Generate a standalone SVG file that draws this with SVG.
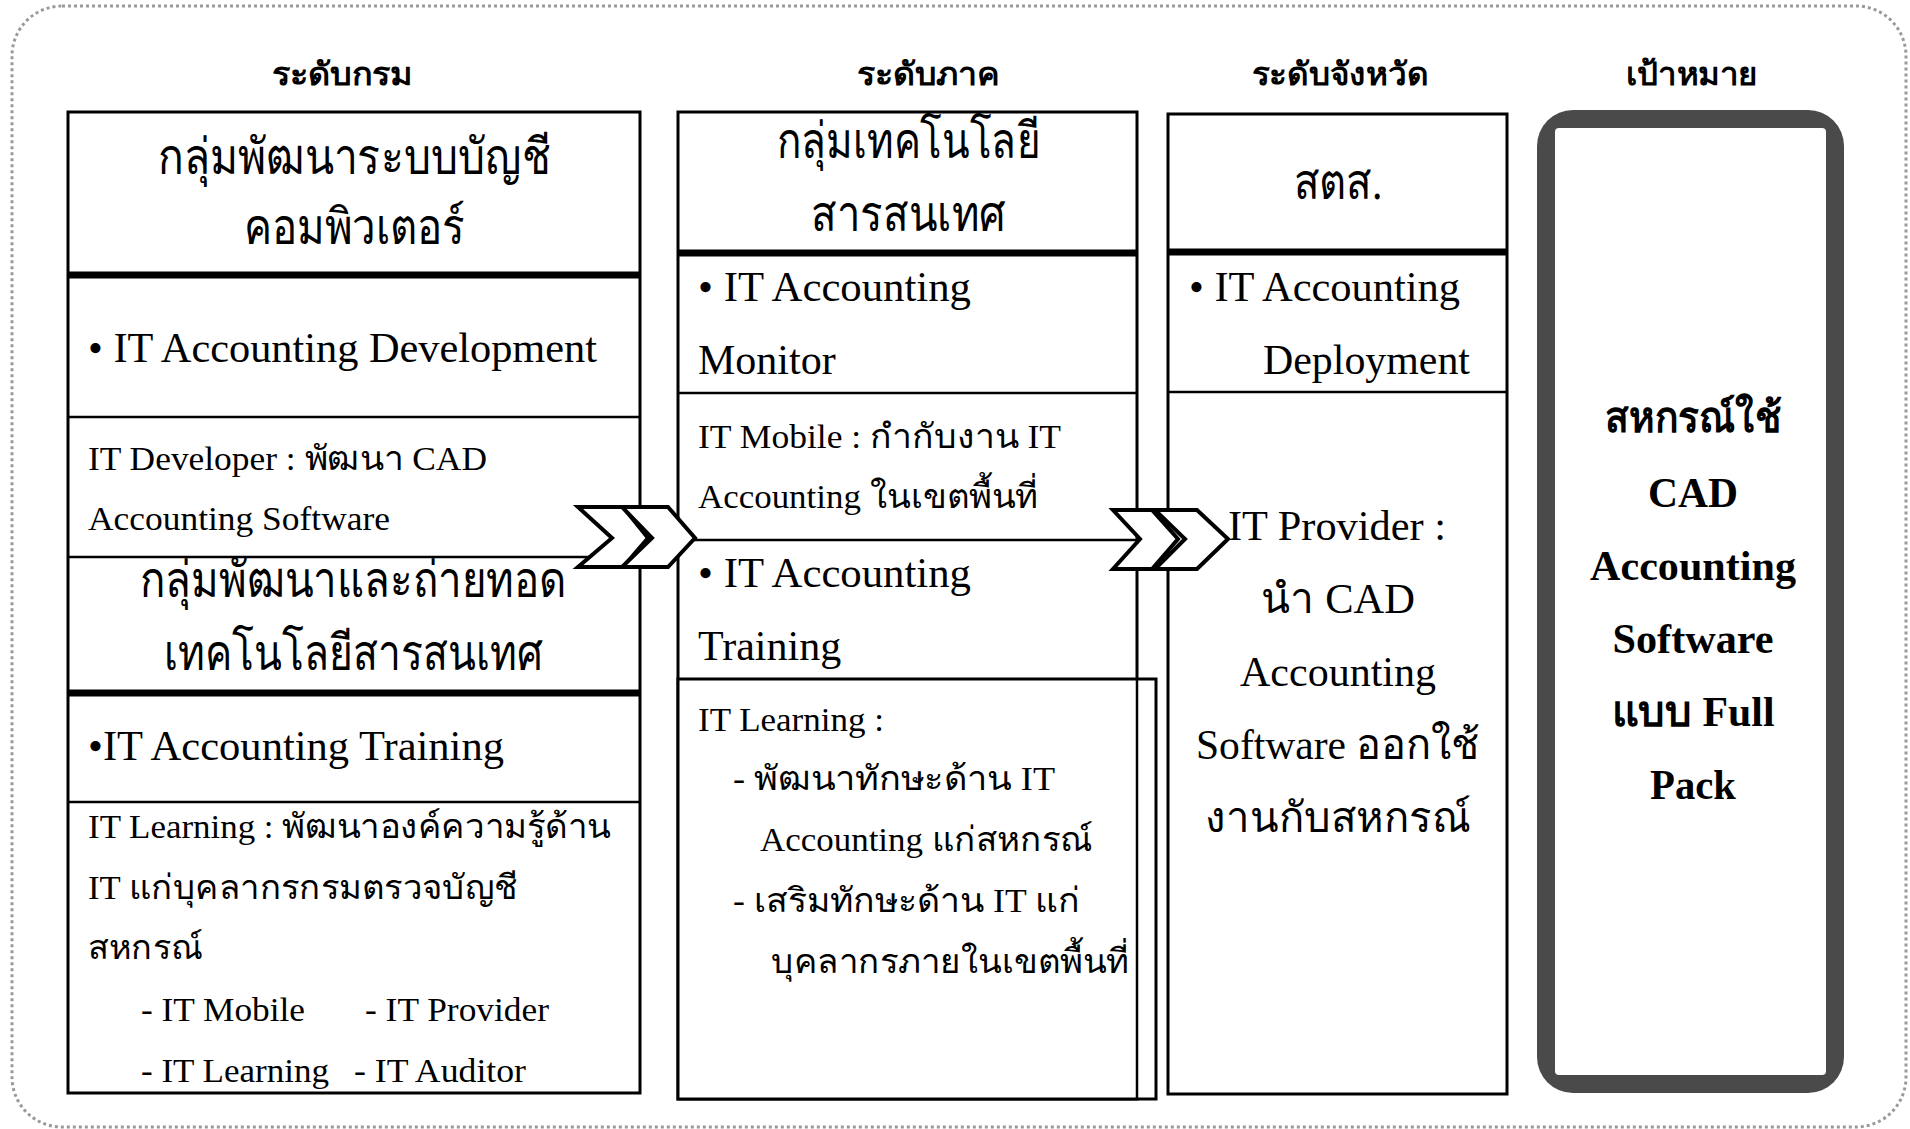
<svg xmlns="http://www.w3.org/2000/svg" width="1910" height="1129" viewBox="0 0 1910 1129">
<style>
.bg{fill:#fff}
.frame{fill:none;stroke:#9a9a9a;stroke-width:3;stroke-dasharray:3 3}
.box{fill:#fff;stroke:#000;stroke-width:3}
.thick{stroke:#000;stroke-width:7}
.thin{stroke:#000;stroke-width:2.5}
.t{font-family:"Liberation Serif","Noto Sans",serif;fill:#000}
.big{font-size:50px}
.m{font-size:42px}
.s{font-size:34px}
.hdr{font-family:"Liberation Sans","Noto Sans",sans-serif;font-weight:bold;font-size:32px;text-anchor:middle;fill:#000}
.goal{font-family:"Liberation Serif","Noto Sans",serif;font-weight:bold;font-size:42px;text-anchor:middle;fill:#000}
.mid{text-anchor:middle}
.chev{fill:#fff;stroke:#000;stroke-width:4;stroke-linejoin:miter}
</style>
<rect class="bg" x="0" y="0" width="1910" height="1129"/>
<rect class="frame" x="12" y="6" width="1894" height="1121" rx="50" ry="50"/>

<g id="headers">
<text class="hdr" x="342" y="85" textLength="141" lengthAdjust="spacingAndGlyphs">ระดับกรม</text>
<text class="hdr" x="928" y="85" textLength="143" lengthAdjust="spacingAndGlyphs">ระดับภาค</text>
<text class="hdr" x="1340" y="85" textLength="177" lengthAdjust="spacingAndGlyphs">ระดับจังหวัด</text>
<text class="hdr" x="1692" y="85" textLength="132" lengthAdjust="spacingAndGlyphs">เป้าหมาย</text>
</g>

<g id="node-department">
<rect class="box" x="68" y="112" width="572" height="981"/>
<line class="thick" x1="68" y1="275" x2="640" y2="275"/>
<line class="thin" x1="68" y1="417" x2="640" y2="417"/>
<line class="thin" x1="68" y1="557" x2="640" y2="557"/>
<line class="thick" x1="68" y1="693" x2="640" y2="693"/>
<line class="thin" x1="68" y1="802" x2="640" y2="802"/>
<text class="t big" x="158" y="174" textLength="393" lengthAdjust="spacingAndGlyphs">กลุ่มพัฒนาระบบบัญชี</text>
<text class="t big" x="244" y="244" textLength="221" lengthAdjust="spacingAndGlyphs">คอมพิวเตอร์</text>
<text class="t m" x="88" y="362" textLength="509" lengthAdjust="spacingAndGlyphs">• IT Accounting Development</text>
<text class="t s" x="88" y="470" textLength="399" lengthAdjust="spacingAndGlyphs">IT Developer : พัฒนา CAD</text>
<text class="t s" x="88" y="530" textLength="302" lengthAdjust="spacingAndGlyphs">Accounting Software</text>
<text class="t big" x="140" y="597" textLength="426" lengthAdjust="spacingAndGlyphs">กลุ่มพัฒนาและถ่ายทอด</text>
<text class="t big" x="164" y="670" textLength="379" lengthAdjust="spacingAndGlyphs">เทคโนโลยีสารสนเทศ</text>
<text class="t m" x="88" y="760" textLength="416" lengthAdjust="spacingAndGlyphs">•IT Accounting Training</text>
<text class="t s" x="88" y="838" textLength="523" lengthAdjust="spacingAndGlyphs">IT Learning : พัฒนาองค์ความรู้ด้าน</text>
<text class="t s" x="88" y="899" textLength="430" lengthAdjust="spacingAndGlyphs">IT แก่บุคลากรกรมตรวจบัญชี</text>
<text class="t s" x="88" y="959" textLength="115" lengthAdjust="spacingAndGlyphs">สหกรณ์</text>
<text class="t s" x="141" y="1021" textLength="164" lengthAdjust="spacingAndGlyphs">- IT Mobile</text>
<text class="t s" x="365" y="1021" textLength="184" lengthAdjust="spacingAndGlyphs">- IT Provider</text>
<text class="t s" x="141" y="1082" textLength="188" lengthAdjust="spacingAndGlyphs">- IT Learning</text>
<text class="t s" x="354" y="1082" textLength="172" lengthAdjust="spacingAndGlyphs">- IT Auditor</text>
</g>

<g id="node-region">
<rect class="box" x="678" y="112" width="459" height="987"/>
<rect class="box" x="678" y="679" width="478" height="420"/>
<line class="thin" x1="1137" y1="679" x2="1137" y2="1099"/>
<line class="thick" x1="678" y1="253" x2="1137" y2="253"/>
<line class="thin" x1="678" y1="393" x2="1137" y2="393"/>
<line class="thin" x1="678" y1="540" x2="1137" y2="540"/>
<text class="t big" x="777" y="158" textLength="263" lengthAdjust="spacingAndGlyphs">กลุ่มเทคโนโลยี</text>
<text class="t big" x="811" y="231" textLength="195" lengthAdjust="spacingAndGlyphs">สารสนเทศ</text>
<text class="t m" x="698" y="301" textLength="273" lengthAdjust="spacingAndGlyphs">• IT Accounting</text>
<text class="t m" x="698" y="374">Monitor</text>
<text class="t s" x="698" y="448" textLength="363" lengthAdjust="spacingAndGlyphs">IT Mobile : กำกับงาน IT</text>
<text class="t s" x="698" y="508" textLength="340" lengthAdjust="spacingAndGlyphs">Accounting ในเขตพื้นที่</text>
<text class="t m" x="698" y="587" textLength="273" lengthAdjust="spacingAndGlyphs">• IT Accounting</text>
<text class="t m" x="698" y="660">Training</text>
<text class="t s" x="698" y="731" textLength="186" lengthAdjust="spacingAndGlyphs">IT Learning :</text>
<text class="t s" x="733" y="790" textLength="322" lengthAdjust="spacingAndGlyphs">- พัฒนาทักษะด้าน IT</text>
<text class="t s" x="760" y="851" textLength="333" lengthAdjust="spacingAndGlyphs">Accounting แก่สหกรณ์</text>
<text class="t s" x="733" y="912" textLength="347" lengthAdjust="spacingAndGlyphs">- เสริมทักษะด้าน IT แก่</text>
<text class="t s" x="771" y="973" textLength="358" lengthAdjust="spacingAndGlyphs">บุคลากรภายในเขตพื้นที่</text>
</g>

<g id="node-province">
<rect class="box" x="1168" y="114" width="339" height="980"/>
<line class="thick" x1="1168" y1="252" x2="1507" y2="252"/>
<line class="thin" x1="1168" y1="392" x2="1507" y2="392"/>
<text class="t big mid" x="1338" y="199" textLength="89" lengthAdjust="spacingAndGlyphs">สตส.</text>
<text class="t m" x="1189" y="301" textLength="271" lengthAdjust="spacingAndGlyphs">• IT Accounting</text>
<text class="t m" x="1263" y="374" textLength="207" lengthAdjust="spacingAndGlyphs">Deployment</text>
<text class="t m" x="1228" y="540" textLength="218" lengthAdjust="spacingAndGlyphs">IT Provider :</text>
<text class="t m" x="1261" y="613" textLength="154" lengthAdjust="spacingAndGlyphs">นำ CAD</text>
<text class="t m" x="1240" y="686" textLength="196" lengthAdjust="spacingAndGlyphs">Accounting</text>
<text class="t m" x="1196" y="759" textLength="284" lengthAdjust="spacingAndGlyphs">Software ออกใช้</text>
<text class="t m" x="1205" y="832" textLength="266" lengthAdjust="spacingAndGlyphs">งานกับสหกรณ์</text>
</g>

<g id="node-goal">
<rect x="1537" y="110" width="307" height="983" rx="36" ry="36" fill="#4a4a4a"/>
<rect x="1555" y="128" width="271" height="947" rx="4" ry="4" fill="#fff"/>
<text class="goal" x="1693" y="432" textLength="177" lengthAdjust="spacingAndGlyphs">สหกรณ์ใช้</text>
<text class="goal" x="1693" y="507" textLength="90" lengthAdjust="spacingAndGlyphs">CAD</text>
<text class="goal" x="1693" y="580" textLength="206" lengthAdjust="spacingAndGlyphs">Accounting</text>
<text class="goal" x="1693" y="653" textLength="161" lengthAdjust="spacingAndGlyphs">Software</text>
<text class="goal" x="1693" y="726" textLength="163" lengthAdjust="spacingAndGlyphs">แบบ Full</text>
<text class="goal" x="1693" y="799" textLength="86" lengthAdjust="spacingAndGlyphs">Pack</text>
</g>

<g id="connectors">
<polygon class="chev" points="578,507 623,507 648,538 623,567 578,567 612,538"/>
<polygon class="chev" points="622,507 668,507 695,538 668,567 622,567 652,538"/>
<polygon class="chev" points="1113,510 1152,510 1178,539 1152,569 1113,569 1140,539"/>
<polygon class="chev" points="1155,510 1197,510 1228,539 1197,569 1155,569 1185,539"/>
</g>
</svg>
